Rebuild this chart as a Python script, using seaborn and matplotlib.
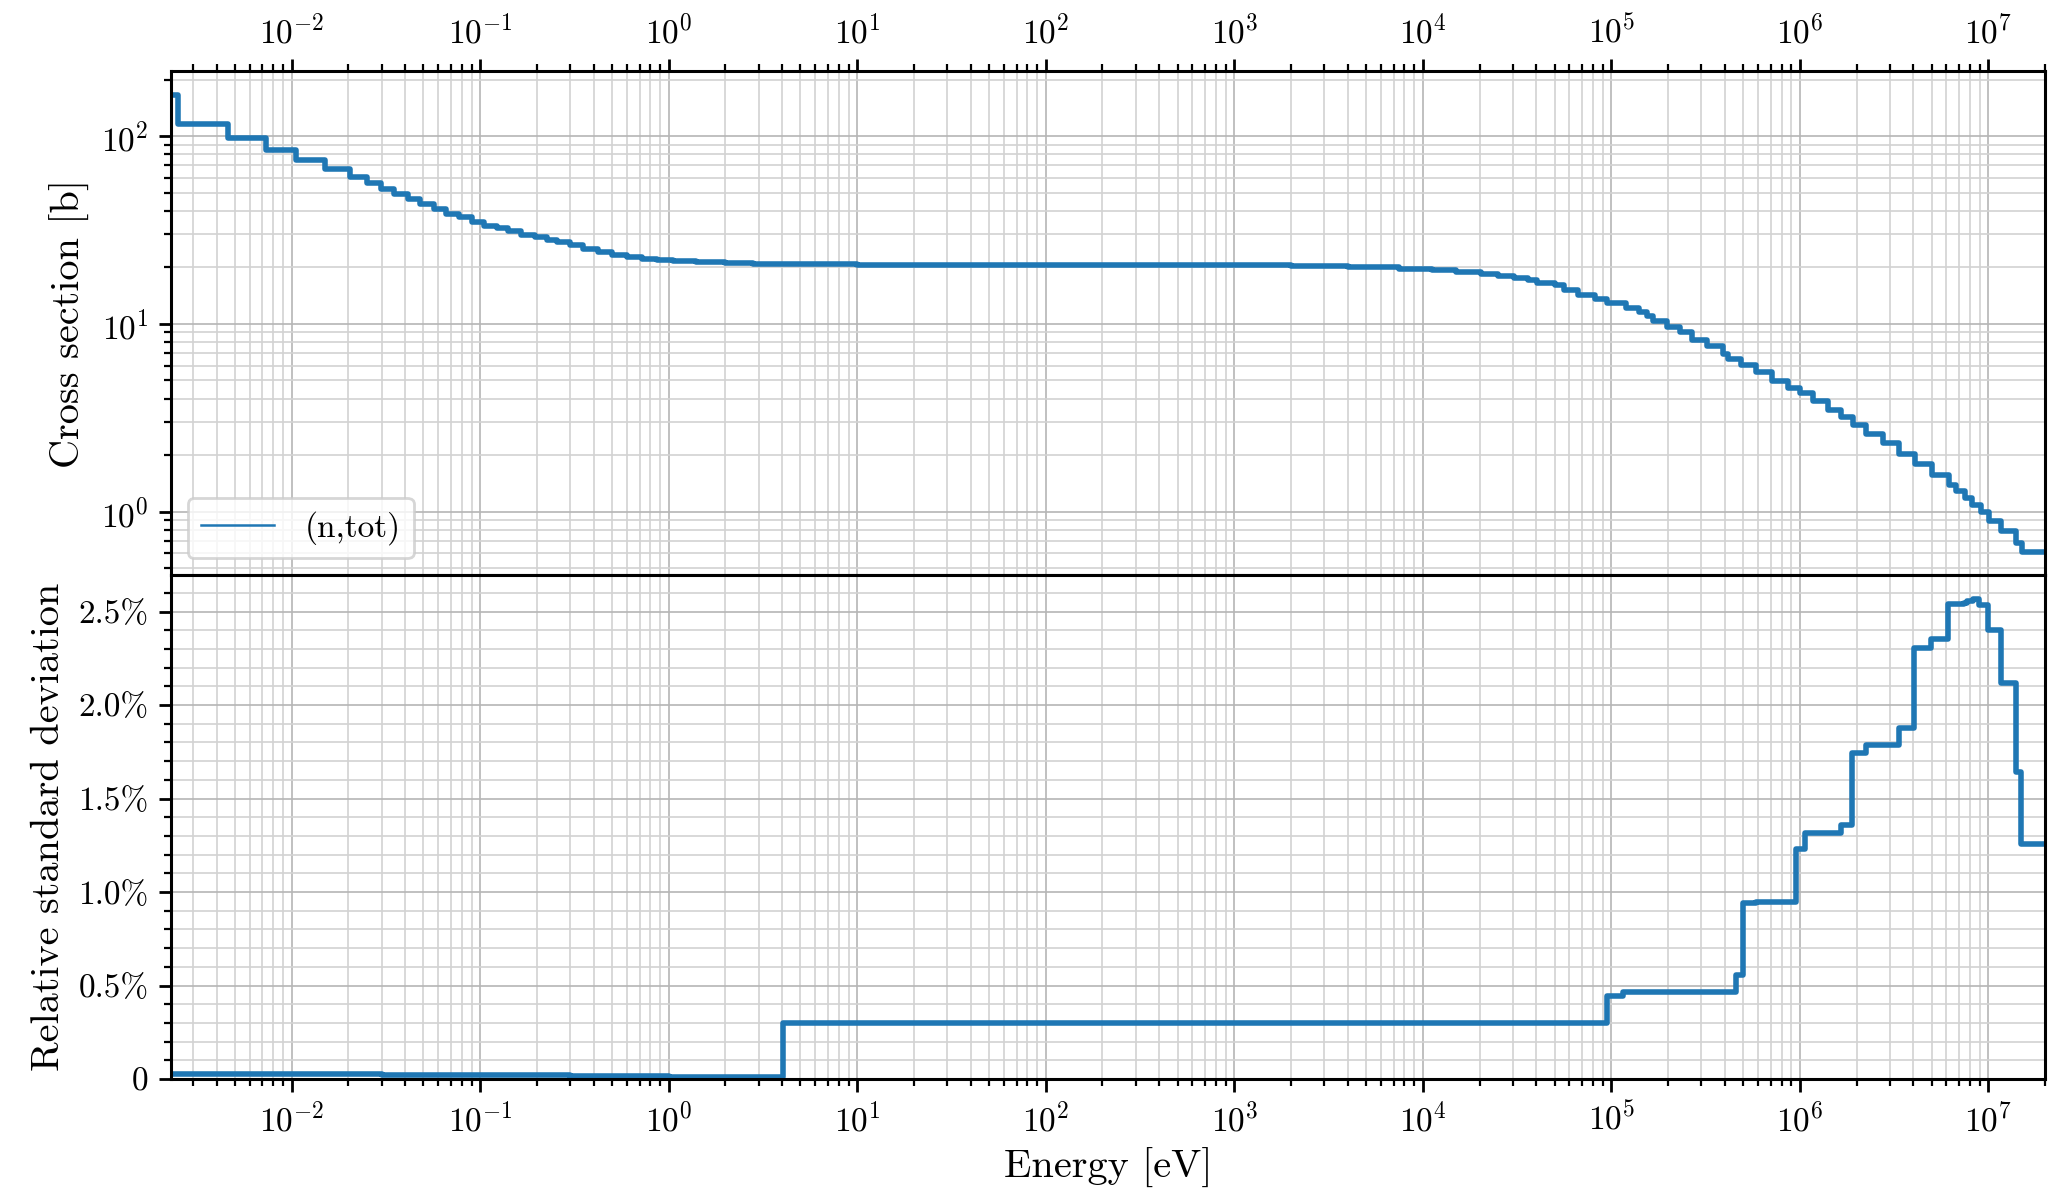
import numpy as np
import pandas as pd
import matplotlib
matplotlib.use("Agg")
import matplotlib.pyplot as plt
import seaborn as sns
from matplotlib.ticker import FuncFormatter, MultipleLocator, AutoMinorLocator, LogLocator, NullFormatter

# Energy group edges [eV] and cross section per group [b]
xs_edges = [2.29e-3, 2.5e-3, 4.6e-3, 7.3e-3, 1.05e-2, 1.5e-2, 2.04e-2, 2.52e-2, 2.99e-2, 3.48e-2,
            4.13e-2, 4.82e-2, 5.67e-2, 6.62e-2, 7.73e-2, 9.05e-2, 0.105, 0.123, 0.140, 0.165,
            0.196, 0.226, 0.255, 0.30, 0.35, 0.42, 0.50, 0.60, 0.72, 0.87, 1.05, 1.4, 2.0, 2.8,
            4.0, 10, 100, 1e3, 2e3, 4e3, 7.5e3, 1.12e4, 1.5e4, 2.03e4, 2.5e4, 3.04e4, 3.6e4,
            4.04e4, 5.06e4, 5.6e4, 6.7e4, 8.2e4, 9.5e4, 1.19e5, 1.40e5, 1.54e5, 1.67e5, 1.97e5,
            2.32e5, 2.67e5, 3.21e5, 3.93e5, 4.17e5, 4.9e5, 5.89e5, 7.16e5, 8.67e5, 9.98e5,
            1.175e6, 1.41e6, 1.66e6, 1.91e6, 2.25e6, 2.76e6, 3.38e6, 4.10e6, 5.03e6, 6.18e6,
            6.76e6, 7.48e6, 8.22e6, 9.16e6, 1.014e7, 1.17e7, 1.41e7, 1.51e7, 2e7]
xs_values = [166, 116, 97.3, 84.7, 74.6, 66.5, 60.8, 56.3, 52.3, 49.2,
             46.1, 43.5, 40.9, 38.5, 37.0, 34.8, 33.4, 32.4, 31.1, 29.9,
             28.9, 28.1, 27.2, 26.4, 25.0, 24.0, 23.2, 22.6, 22.2, 21.9, 21.6, 21.3, 21.1, 20.9,
             20.75, 20.7, 20.65, 20.5, 20.3, 20.0, 19.6, 19.3, 18.9, 18.5, 18.0, 17.6,
             17.1, 16.6, 16.2, 15.2, 14.3, 13.6, 12.9, 12.2, 11.6, 11.0, 10.3,
             9.6, 9.06, 8.24, 7.6, 6.94, 6.5, 6.07, 5.52, 4.99, 4.56,
             4.29, 3.87, 3.46, 3.18, 2.90, 2.60, 2.32, 2.04, 1.80, 1.56,
             1.38, 1.29, 1.18, 1.09, 0.996, 0.89, 0.785, 0.68, 0.607]

# Covariance groups [eV] and relative std. deviation [%]
unc_edges = [2.29e-3, 0.03, 0.3, 1.0, 4.06, 9.5e4, 1.16e5, 4.58e5, 4.97e5, 5.84e5, 9.6e5,
             1.06e6, 1.65e6, 1.9e6, 2.24e6, 3.34e6, 4.06e6, 4.98e6, 6.1e6, 7.39e6, 7.7e6,
             8.27e6, 8.98e6, 1.0e7, 1.17e7, 1.40e7, 1.49e7, 2e7]
unc_values = [0.025, 0.02, 0.015, 0.012, 0.30, 0.444, 0.467, 0.556, 0.943, 0.948, 1.228,
              1.317, 1.358, 1.745, 1.786, 1.875, 2.303, 2.351, 2.538, 2.547, 2.556,
              2.565, 2.535, 2.401, 2.116, 1.640, 1.255]

label = "(n,tot)"
blue = "#1f77b4"


def step_frame(edges, values):
    # repeat last value so the last group is drawn up to the upper edge
    return pd.DataFrame({"E": edges, "v": list(values) + [values[-1]]})


plt.rcParams["font.family"] = "serif"
plt.rcParams["font.serif"] = ["cmr10", "DejaVu Serif"]
plt.rcParams["mathtext.fontset"] = "cm"
plt.rcParams["axes.formatter.use_mathtext"] = True
plt.rcParams["axes.unicode_minus"] = False
plt.rcParams["axes.linewidth"] = 1.1

fig, (ax1, ax2) = plt.subplots(2, 1, figsize=(10.29, 5.98), dpi=200, sharex=True)
fig.subplots_adjust(left=0.0831, right=0.9937, top=0.9406, bottom=0.0978, hspace=0)

sns.lineplot(data=step_frame(xs_edges, xs_values), x="E", y="v", ax=ax1,
             drawstyle="steps-post", color=blue, lw=2.0, label=label,
             estimator=None, sort=False)
sns.lineplot(data=step_frame(unc_edges, unc_values), x="E", y="v", ax=ax2,
             drawstyle="steps-post", color=blue, lw=2.0,
             estimator=None, sort=False)

ax1.set_xscale("log")
ax1.set_yscale("log")
ax1.set_xlim(xs_edges[0], xs_edges[-1])
ax1.set_ylim(0.46, 222)
ax2.set_ylim(0, 2.695)

ax1.xaxis.set_major_locator(LogLocator(base=10, numticks=40))
ax1.xaxis.set_minor_locator(LogLocator(base=10, subs=np.arange(2, 10), numticks=40))
ax1.xaxis.set_minor_formatter(NullFormatter())

for ax in (ax1, ax2):
    ax.set_axisbelow(True)
    ax.grid(which="major", color="#b5b5b5", lw=0.6)
    ax.grid(which="minor", color="#d2d2d2", lw=0.6)
    ax.tick_params(which="major", length=4.5, width=1.0, labelsize=12)
    ax.tick_params(which="minor", length=2.5, width=0.8)
    ax.tick_params(axis="y", which="both", left=True, right=False)

ax1.xaxis.tick_top()
ax1.tick_params(axis="x", which="both", top=True, bottom=False, labeltop=True, labelbottom=False)
ax2.tick_params(axis="x", which="both", top=False, bottom=True, labelbottom=True)

ax2.yaxis.set_major_locator(MultipleLocator(0.5))
ax2.yaxis.set_minor_locator(AutoMinorLocator(5))
ax2.yaxis.set_major_formatter(FuncFormatter(lambda v, p: "0" if abs(v) < 1e-9 else f"{v:.1f}%"))

ax1.set_xlabel("")
ax1.set_ylabel("Cross section [b]", fontsize=14.5)
ax2.set_ylabel("Relative standard deviation", fontsize=14.5)
ax2.set_xlabel("Energy [eV]", fontsize=14.5)

leg = ax1.legend(loc="lower left", fontsize=12, edgecolor="#cccccc", framealpha=0.8,
                 handlelength=2.2, handletextpad=0.9)
leg.get_frame().set_linewidth(1.0)
leg.get_lines()[0].set_linewidth(0.9)

fig.savefig("out.png", dpi=200)
